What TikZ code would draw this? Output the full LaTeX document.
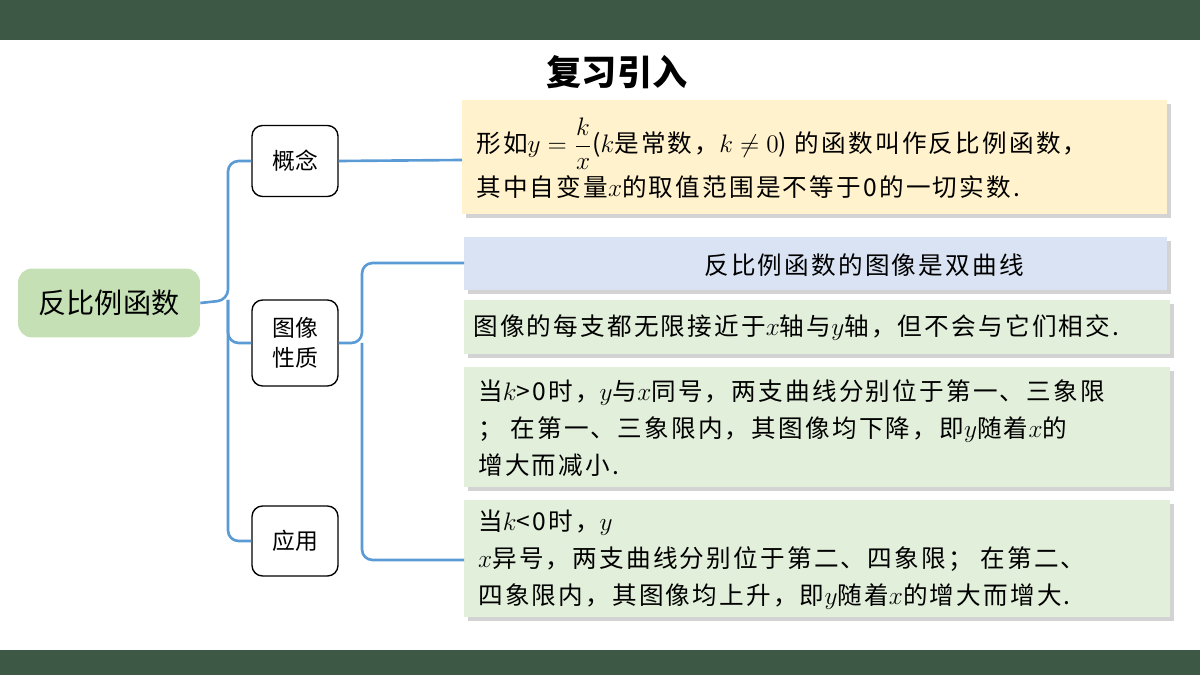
\documentclass[tikz,border=0pt]{standalone}
\usepackage{fontspec}
\setmainfont{Noto Sans CJK SC}
\newfontfamily\bodyf[LetterSpace=9]{Noto Sans CJK SC}
\usetikzlibrary{shadows}
\definecolor{bar}{HTML}{3D5845}
\definecolor{lg}{HTML}{C5E0B4}
\definecolor{bl}{HTML}{5B9BD5}
\definecolor{yel}{HTML}{FFF2CC}
\definecolor{blu}{HTML}{DAE3F3}
\definecolor{grn}{HTML}{E2EFDA}
\tikzset{
 cat/.style={draw=black,fill=white,rounded corners=6pt,line width=0.8pt,align=center,font=\fontsize{13}{17}\selectfont},
 panel/.style={draw=none,anchor=north west,drop shadow={opacity=0.35,shadow xshift=2pt,shadow yshift=-2pt}},
 txt/.style={anchor=west,align=left,font=\bodyf\fontsize{14}{21}\selectfont},
 link/.style={draw=bl,line width=1.5pt,rounded corners=6pt}
}
\begin{document}
\begin{tikzpicture}[x=0.02cm,y=-0.02cm]
\useasboundingbox (0,0) rectangle (1200,675);
\fill[bar] (0,0) rectangle (1200,40);
\fill[bar] (0,650) rectangle (1200,675);
\node[font=\fontsize{20}{22}\selectfont\bfseries] (title) at (617,72) {复习引入};
\node[fill=lg,rounded corners=8pt,minimum width=3.64cm,minimum height=1.38cm,font=\fontsize{16}{18}\selectfont] (root) at (109,303) {反比例函数};
\node[cat,minimum width=1.72cm,minimum height=1.42cm] (c1) at (295,161) {概念};
\node[cat,minimum width=1.72cm,minimum height=1.72cm] (c2) at (295,343) {图像\\性质};
\node[cat,minimum width=1.72cm,minimum height=1.4cm] (c3) at (295,541) {应用};
\path[panel,fill=yel] (462,100) rectangle (1167,214);
\path[panel,fill=blu] (464,237) rectangle (1167,290);
\path[panel,fill=grn] (464,300) rectangle (1170,354);
\path[panel,fill=grn] (464,367) rectangle (1170,487);
\path[panel,fill=grn] (464,500) rectangle (1170,617);
\coordinate (p1) at (462,160);
\coordinate (p2) at (464,263);
\coordinate (p3) at (464,560);
\coordinate (j1) at (228,300);
\draw[link] (root.east) -- (j1) |- (c1.west);
\draw[link] (j1) |- (c3.west);
\draw[link] (j1) |- (c2.west);
\draw[link] (c1.east) -- (p1);
\draw[link] (c2.east) -- (362,343) |- (p2);
\draw[link] (362,343) |- (p3);
\node[txt,font=\bodyf\fontsize{14}{25}\selectfont] (t1) at (470,158) {形如$y=\displaystyle\frac{k}{x}$($k$是常数，$k\neq 0$) 的函数叫作反比例函数，\\其中自变量$x$的取值范围是不等于0的一切实数.};
\node[txt] (t2) at (698,265) {反比例函数的图像是双曲线};
\node[txt] (t3) at (467,328) {图像的每支都无限接近于$x$轴与$y$轴，但不会与它们相交.};
\node[txt] (t4) at (472,428) { 当$k$>0时，$y$与$x$同号，两支曲线分别位于第一、三象限\\；\ 在第一、三象限内，其图像均下降，即$y$随着$x$的\\增大而减小.};
\node[txt] (t5) at (472,560) {当$k$<0时，$y$\\$x$异号，两支曲线分别位于第二、四象限；\ 在第二、\\四象限内，其图像均上升，即$y$随着$x$的增大而增大.};
\end{tikzpicture}
\end{document}
